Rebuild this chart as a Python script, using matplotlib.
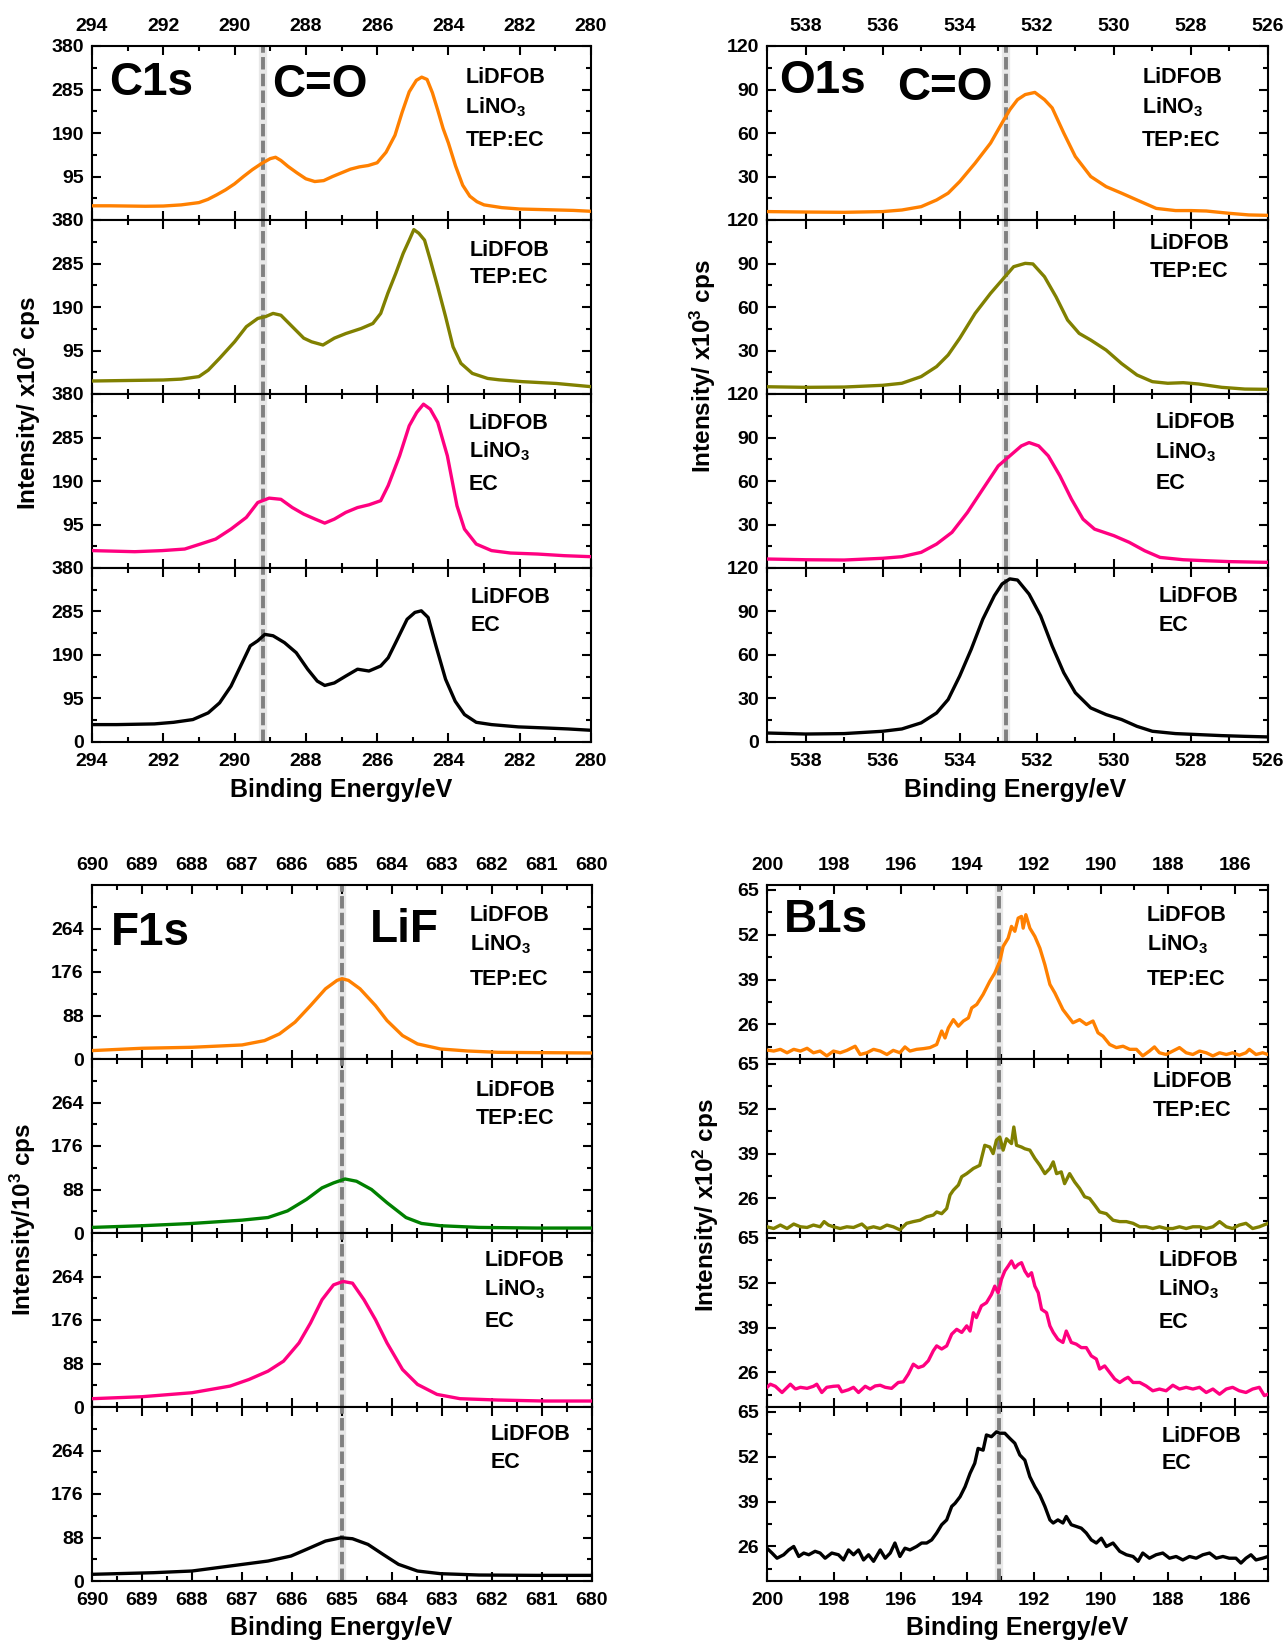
import matplotlib
matplotlib.use('Agg')
import matplotlib.pyplot as plt
from matplotlib.ticker import MultipleLocator, FixedLocator

plt.rcParams['font.family'] = ['Liberation Sans', 'DejaVu Sans']
plt.rcParams['font.weight'] = 'bold'
plt.rcParams['mathtext.fontset'] = 'custom'
plt.rcParams['mathtext.rm'] = 'Liberation Sans:bold'
plt.rcParams['mathtext.bf'] = 'Liberation Sans:bold'
plt.rcParams['mathtext.it'] = 'Liberation Sans:bold'
plt.rcParams['axes.linewidth'] = 1.5

# ---------------- data ----------------
# C1s
c1s_orange_ev = [294.0, 293.5, 293.0, 292.5, 292.0, 291.5, 291.0, 290.75, 290.5, 290.25, 290.0, 289.75, 289.5,
                 289.25, 289.0, 288.85, 288.7, 288.5, 288.25, 288.0, 287.75, 287.5, 287.25, 287.0, 286.75, 286.5,
                 286.25, 286.0, 285.75, 285.5, 285.3, 285.1, 284.9, 284.75, 284.6, 284.45, 284.3, 284.15, 284.0,
                 283.8, 283.6, 283.4, 283.2, 283.0, 282.5, 282.0, 281.5, 281.0, 280.5, 280.0]
c1s_orange_int = [31, 31, 30.5, 30, 30.5, 33, 38, 45, 55, 66, 79, 95, 110,
                  123, 134, 137, 130, 117, 103, 90, 84, 86, 95, 103, 111, 116,
                  119, 125, 148, 185, 235, 280, 305, 312, 307, 278, 240, 200, 168,
                  118, 76, 52, 40, 33, 27, 24, 23, 22, 21, 19]
c1s_olive_ev = [294.0, 293.0, 292.0, 291.5, 291.0, 290.74, 290.42, 290.0, 289.67, 289.35, 289.13, 288.92, 288.7,
                288.38, 288.06, 287.84, 287.52, 287.2, 286.88, 286.45, 286.12, 285.9, 285.7, 285.48, 285.27,
                285.1, 284.97, 284.83, 284.67, 284.51, 284.3, 284.08, 283.87, 283.65, 283.33, 282.9, 282.58,
                281.93, 280.97, 280.0]
c1s_olive_int = [28.4, 29.5, 30.6, 32.5, 38, 52, 78, 114, 147, 165, 169, 176, 172,
                 147, 122, 114, 107, 122, 132, 143, 154, 176, 220, 263, 307,
                 336, 359, 351, 336, 293, 234, 169, 103, 67, 45, 34, 31,
                 27, 23, 16]
c1s_pink_ev = [294.0, 292.8, 292.03, 291.4, 290.96, 290.53, 290.1, 289.67, 289.35, 289.03, 288.7, 288.38, 288.06,
               287.74, 287.47, 287.2, 286.88, 286.55, 286.23, 285.9, 285.69, 285.37, 285.1, 284.89, 284.7,
               284.51, 284.3, 284.03, 283.76, 283.55, 283.22, 282.79, 282.26, 281.5, 280.75, 280.0]
c1s_pink_int = [38, 35.6, 38, 41.4, 52.3, 63.2, 85, 110.5, 143, 152.6, 150, 132, 117.7,
                106.8, 98, 106.8, 121.4, 132, 138, 147, 180, 245, 310.5, 339.6, 357.8,
                347, 318, 245, 135.8, 85, 52.3, 38, 32.7, 30.5, 26.9, 24.7]
c1s_black_ev = [294.0, 293.3, 292.25, 291.71, 291.17, 290.74, 290.42, 290.1, 289.83, 289.56, 289.35, 289.15,
                288.92, 288.6, 288.27, 287.95, 287.68, 287.47, 287.2, 286.88, 286.55, 286.23, 285.9, 285.69,
                285.48, 285.16, 284.94, 284.76, 284.57, 284.35, 284.08, 283.81, 283.55, 283.22, 282.79,
                282.04, 281.29, 280.64, 280.0]
c1s_black_int = [38, 38, 39.5, 43, 49, 63.6, 85.5, 122, 166, 210, 221, 235,
                 232, 217, 195, 159, 133, 123.5, 129, 144, 159, 155, 166, 184,
                 217, 268, 283, 286.5, 272, 210, 137, 89, 60, 43, 38,
                 33, 30.7, 28.5, 25.6]

# O1s
o1s_orange_ev = [539.0, 538.0, 537.0, 536.0, 535.5, 535.0, 534.6, 534.3, 534.0, 533.6, 533.2, 532.9, 532.7,
                 532.5, 532.3, 532.05, 531.8, 531.6, 531.3, 531.0, 530.6, 530.2, 529.8, 529.4, 528.9, 528.4,
                 528.0, 527.6, 527.0, 526.5, 526.0]
o1s_orange_int = [5.8, 5.5, 5.3, 5.8, 6.9, 9.2, 13.8, 18.5, 26.5, 39.2, 53, 67, 76,
                  83, 86.5, 88, 83, 77.3, 60, 43.8, 30, 23, 18.5, 13.8, 8, 6.5,
                  6.5, 6.2, 4.6, 3.5, 3.2]
o1s_olive_ev = [539.0, 538.0, 537.0, 536.0, 535.5, 535.0, 534.6, 534.3, 534.0, 533.6, 533.2, 532.9, 532.6,
                532.3, 532.1, 531.8, 531.5, 531.2, 530.9, 530.6, 530.2, 529.8, 529.4, 529.0, 528.6, 528.2,
                527.8, 527.2, 526.6, 526.0]
o1s_olive_int = [5, 4.6, 4.8, 6, 7.4, 12, 18.9, 26.9, 38.4, 55.6, 69.4, 78.6, 87.8,
                 90.1, 89.7, 80.9, 67, 51, 41.8, 37.2, 30.3, 21, 13.1, 8.5, 7.4, 7.8,
                 6.9, 4.6, 3.4, 3.2]
o1s_pink_ev = [539.0, 538.0, 537.0, 536.0, 535.5, 535.0, 534.6, 534.2, 533.8, 533.4, 533.0, 532.7, 532.4,
               532.2, 531.95, 531.7, 531.4, 531.1, 530.8, 530.5, 530.0, 529.6, 529.2, 528.8, 528.2, 527.6,
               527.0, 526.0]
o1s_pink_int = [6.2, 5.7, 5.5, 6.7, 7.8, 10.8, 16.5, 24.6, 38.3, 54.4, 70.4, 77.3, 84.2,
                86.5, 84.2, 77.3, 63.6, 47.5, 33.7, 26.8, 22.3, 17.7, 11.9, 7.3, 5.7, 5,
                4.4, 3.9]
o1s_black_ev = [539.0, 538.0, 537.0, 536.0, 535.5, 535.0, 534.6, 534.3, 534.0, 533.7, 533.4, 533.1, 532.9,
                532.7, 532.5, 532.2, 531.9, 531.6, 531.3, 531.0, 530.6, 530.2, 529.8, 529.4, 529.0, 528.4,
                527.8, 527.2, 526.6, 526.0]
o1s_black_int = [6.2, 5.5, 5.8, 7.4, 9, 13.2, 20, 29.3, 45.5, 64, 84.7, 100.9, 109,
                 112.5, 111.7, 102, 87, 66.2, 47.8, 34, 23.5, 18.9, 15.5, 10.8, 7.4, 5.8,
                 5.1, 4.4, 3.9, 3.5]

# F1s
f1s_orange_ev = [690.0, 689.0, 688.0, 687.0, 686.55, 686.25, 685.94, 685.63, 685.33, 685.10, 685.0, 684.87,
                 684.64, 684.33, 684.10, 683.79, 683.49, 683.03, 682.49, 681.88, 681.11, 680.0]
f1s_orange_int = [17, 21.7, 23.7, 28.4, 37.2, 50.8, 74.5, 108, 142, 159, 162.5, 159,
                  142, 108, 77.8, 47.4, 30.5, 20.3, 16.2, 13.5, 12.9, 12.2]
f1s_green_ev = [690.0, 689.0, 688.0, 687.0, 686.48, 686.09, 685.71, 685.40, 685.17, 684.94, 684.71, 684.41,
                684.10, 683.72, 683.41, 683.03, 682.26, 681.11, 680.0]
f1s_green_int = [11.3, 14.7, 19.3, 26, 31.3, 44.7, 68, 91.3, 101.3, 109.3, 104.7, 88,
                 61.3, 31.3, 19.3, 14.7, 11.3, 10, 10]
f1s_pink_ev = [690.0, 689.0, 688.0, 687.24, 686.86, 686.48, 686.17, 685.86, 685.63, 685.40, 685.17, 684.98,
               684.79, 684.56, 684.33, 684.10, 683.79, 683.49, 683.10, 682.64, 681.88, 680.96, 680.0]
f1s_pink_int = [16.8, 20.8, 28.9, 42.3, 55.7, 72.5, 92.7, 129.6, 169.9, 216.9, 247, 254,
                250.5, 216.9, 176.6, 129.6, 75.9, 45.7, 25.5, 16.8, 14.1, 12.1, 12.1]
f1s_black_ev = [690.0, 688.77, 688.0, 687.24, 686.48, 686.02, 685.71, 685.33, 685.02, 684.79, 684.48, 684.18,
                683.87, 683.49, 683.03, 682.26, 681.11, 680.0]
f1s_black_int = [13.5, 16.8, 20.2, 30.3, 40.4, 50.5, 64, 80.8, 87.5, 85.5, 74, 53.9,
                 33.7, 20.2, 14.8, 12.1, 11.4, 11.4]

# B1s
b1s_orange_ev = [200.00, 199.80, 199.60, 199.40, 199.20, 199.00, 198.80, 198.61, 198.41, 198.21, 198.01, 197.81,
                 197.61, 197.36, 197.21, 197.01, 196.81, 196.61, 196.41, 196.22, 196.02, 195.87, 195.72, 195.52,
                 195.32, 195.12, 194.92, 194.77, 194.67, 194.57, 194.42, 194.27, 194.12, 193.97, 193.87, 193.72,
                 193.53, 193.33, 193.18, 193.03, 192.93, 192.78, 192.68, 192.58, 192.48, 192.38, 192.33, 192.25,
                 192.13, 191.98, 191.83, 191.68, 191.53, 191.38, 191.24, 191.14, 190.99, 190.84, 190.64, 190.44,
                 190.24, 190.09, 189.94, 189.74, 189.54, 189.34, 189.14, 188.94, 188.75, 188.55, 188.40, 188.25,
                 188.05, 187.85, 187.65, 187.45, 187.25, 187.05, 186.85, 186.65, 186.45, 186.25, 186.06, 185.86,
                 185.66, 185.56, 185.36, 185.16, 185.00]
b1s_orange_int = [18.6, 18.3, 18.8, 17.8, 18.8, 18.3, 19.1, 17.8, 18.3, 16.9, 18.3, 17.8,
                  18.5, 19.7, 17.3, 17.8, 18.8, 18.3, 17.3, 18.5, 17.8, 19.5, 18.3, 18.8,
                  19.0, 19.3, 20.2, 24.1, 22.1, 25.0, 27.4, 25.5, 27.0, 27.9, 30.8, 31.8,
                  34.7, 38.5, 40.9, 44.3, 48.6, 51.0, 54.4, 53.0, 56.8, 57.3, 53.9, 57.8,
                  53.9, 51.5, 48.1, 43.3, 37.6, 35.1, 32.3, 30.3, 28.4, 26.5, 27.4, 26.0,
                  27.0, 23.6, 22.6, 20.2, 19.3, 19.7, 18.8, 18.8, 16.9, 18.3, 19.5, 17.8,
                  17.3, 18.3, 19.3, 17.8, 17.3, 18.3, 17.8, 16.9, 17.8, 17.3, 17.8, 17.1,
                  17.8, 18.8, 17.3, 17.8, 17.3]
b1s_olive_ev = [200.00, 199.80, 199.60, 199.40, 199.20, 199.00, 198.80, 198.61, 198.41, 198.29, 198.16, 198.01,
                197.81, 197.61, 197.41, 197.16, 197.01, 196.81, 196.61, 196.41, 196.22, 196.02, 195.82, 195.62,
                195.42, 195.22, 195.02, 194.92, 194.77, 194.62, 194.52, 194.42, 194.27, 194.17, 194.02, 193.82,
                193.63, 193.48, 193.33, 193.23, 193.13, 193.03, 192.93, 192.83, 192.68, 192.61, 192.53, 192.38,
                192.28, 192.13, 191.98, 191.83, 191.68, 191.53, 191.43, 191.33, 191.19, 191.09, 190.94, 190.79,
                190.64, 190.49, 190.34, 190.19, 190.04, 189.84, 189.64, 189.44, 189.24, 189.04, 188.84, 188.65,
                188.45, 188.25, 188.05, 187.85, 187.65, 187.45, 187.25, 187.05, 186.85, 186.65, 186.45, 186.25,
                186.06, 185.86, 185.66, 185.46, 185.26, 185.00]
b1s_olive_int = [17.8, 17.3, 18.3, 17.3, 18.6, 17.8, 17.6, 18.3, 17.8, 19.3, 18.3, 17.8,
                 17.3, 17.8, 17.6, 18.6, 17.3, 17.8, 17.3, 18.3, 17.8, 16.9, 18.8, 19.3,
                 19.7, 20.7, 21.2, 22.1, 21.6, 23.1, 27.0, 28.4, 29.9, 32.3, 33.2, 34.7,
                 35.6, 41.4, 40.9, 39.0, 42.9, 43.8, 40.0, 43.3, 41.9, 46.7, 41.4, 40.9,
                 40.4, 40.0, 37.6, 35.6, 33.2, 34.7, 36.6, 33.2, 33.7, 30.3, 33.2, 30.8,
                 28.9, 26.5, 26.0, 24.1, 22.1, 21.6, 19.7, 19.3, 19.3, 18.8, 17.8, 17.8,
                 17.3, 17.8, 17.3, 17.3, 17.8, 17.3, 17.8, 17.8, 17.3, 17.8, 19.3, 17.8,
                 17.3, 18.3, 18.8, 17.3, 17.8, 18.8]
b1s_pink_ev = [200.00, 199.90, 199.75, 199.55, 199.30, 199.15, 199.00, 198.80, 198.61, 198.51, 198.36, 198.21,
               198.01, 197.86, 197.76, 197.56, 197.41, 197.26, 197.06, 196.91, 196.76, 196.61, 196.46, 196.27,
               196.07, 195.92, 195.77, 195.62, 195.47, 195.32, 195.17, 195.02, 194.92, 194.77, 194.62, 194.47,
               194.32, 194.17, 194.02, 193.92, 193.82, 193.73, 193.58, 193.43, 193.28, 193.18, 193.08, 192.98,
               192.88, 192.78, 192.68, 192.58, 192.48, 192.38, 192.28, 192.18, 192.08, 191.98, 191.88, 191.78,
               191.63, 191.53, 191.43, 191.29, 191.14, 191.04, 190.89, 190.74, 190.59, 190.44, 190.29, 190.14,
               190.04, 189.89, 189.74, 189.59, 189.44, 189.29, 189.19, 189.04, 188.84, 188.65, 188.45, 188.25,
               188.05, 187.85, 187.65, 187.45, 187.25, 187.05, 186.85, 186.65, 186.45, 186.25, 186.06, 185.86,
               185.66, 185.46, 185.26, 185.11, 185.00]
b1s_pink_int = [21.7, 22.6, 22.0, 20.2, 22.6, 21.2, 21.7, 21.4, 22.0, 22.6, 20.2, 21.7,
                22.0, 22.1, 20.4, 21.0, 21.7, 20.2, 22.0, 21.2, 22.1, 22.3, 21.7, 21.4,
                23.1, 23.3, 25.5, 28.4, 27.4, 27.9, 29.4, 32.3, 33.7, 32.8, 33.7, 37.1,
                38.5, 37.6, 39.5, 38.0, 43.3, 41.9, 45.3, 46.2, 48.6, 51.0, 49.1, 53.0,
                55.4, 56.8, 58.3, 56.3, 57.3, 57.8, 55.4, 53.9, 54.9, 51.0, 49.1, 44.3,
                43.3, 39.5, 37.6, 35.6, 34.7, 38.0, 34.7, 34.2, 33.2, 33.2, 30.8, 29.9,
                27.0, 27.9, 26.0, 24.1, 23.1, 24.1, 24.6, 23.1, 23.1, 22.1, 20.7, 21.2,
                20.7, 22.3, 21.2, 21.7, 21.2, 21.7, 20.2, 21.2, 19.7, 21.2, 21.7, 20.7,
                20.2, 21.2, 21.7, 19.3, 19.7]
b1s_black_ev = [200.00, 199.85, 199.70, 199.50, 199.35, 199.20, 199.05, 198.90, 198.75, 198.56, 198.41, 198.26,
                198.06, 197.86, 197.71, 197.56, 197.41, 197.26, 197.11, 196.96, 196.81, 196.61, 196.46, 196.31,
                196.17, 196.02, 195.87, 195.72, 195.52, 195.37, 195.22, 195.07, 194.92, 194.77, 194.62, 194.47,
                194.37, 194.22, 194.07, 193.92, 193.78, 193.68, 193.53, 193.43, 193.28, 193.13, 193.03, 192.88,
                192.73, 192.58, 192.43, 192.28, 192.13, 191.98, 191.83, 191.68, 191.53, 191.43, 191.29, 191.14,
                191.04, 190.89, 190.74, 190.59, 190.44, 190.29, 190.14, 189.99, 189.84, 189.64, 189.44, 189.24,
                189.04, 188.89, 188.75, 188.55, 188.35, 188.15, 187.95, 187.75, 187.55, 187.35, 187.15, 186.95,
                186.75, 186.55, 186.35, 186.16, 185.96, 185.81, 185.66, 185.51, 185.36, 185.16, 185.00]
b1s_black_int = [25.5, 24.1, 22.6, 23.6, 25.0, 26.0, 23.1, 24.1, 23.6, 24.6, 24.1, 22.6,
                 24.1, 23.6, 22.1, 25.0, 23.6, 25.0, 22.1, 23.6, 21.7, 25.0, 22.6, 24.1,
                 27.0, 23.1, 25.5, 25.0, 26.0, 27.0, 27.0, 27.9, 29.9, 32.3, 33.7, 37.6,
                 38.5, 40.4, 43.3, 47.2, 50.1, 54.4, 53.9, 58.3, 57.8, 59.2, 58.8, 58.8,
                 57.3, 55.9, 52.5, 51.0, 46.2, 43.3, 40.9, 37.6, 33.7, 32.8, 33.7, 32.8,
                 34.7, 32.3, 31.8, 31.3, 29.9, 27.9, 27.0, 28.4, 26.0, 27.0, 24.6, 23.6,
                 23.1, 21.7, 24.1, 22.6, 23.6, 24.1, 22.6, 23.1, 22.1, 23.1, 22.6, 23.6,
                 24.1, 22.6, 23.1, 22.6, 22.6, 21.2, 22.6, 23.6, 22.1, 22.6, 23.1]

sample_rows = [['LiDFOB', 'LiNO$_3$', 'TEP:EC'],
               ['LiDFOB', 'TEP:EC'],
               ['LiDFOB', 'LiNO$_3$', 'EC'],
               ['LiDFOB', 'EC']]

ORANGE, OLIVE, PINK, BLACK, GREEN = '#FF8000', '#808000', '#FF0080', '#000000', '#008000'

W, H = 1283.0, 1641.0
PH = 174.0
SCALE = 1283.0 / 1226.0

fig = plt.figure(figsize=(12.83, 16.41), dpi=100)


def make_group(left, right, top, xlim, xmaj, xmin, ylim, yticks_top, yticks_bottom, yminor,
               series, colors, marker_x, label_x, label_dy, big_texts, xlabel_xy, ylabel_xy, ylabel):
    axes = []
    for i in range(4):
        bottom_px = top + (i + 1) * PH
        ax = fig.add_axes([left / W, 1 - bottom_px / H, (right - left) / W, PH / H])
        ev, inten = series[i]
        # highlight line (glow + dashed)
        ax.axvline(marker_x, color='#d2d2d2', lw=6.0, alpha=0.5, zorder=1)
        ax.axvline(marker_x, color='#808080', lw=2.8, ls=(0, (3.2, 1.1)), zorder=2)
        ax.plot(ev, inten, color=colors[i], lw=2.4, zorder=3, solid_joinstyle='round')
        ax.set_xlim(*xlim)
        ax.set_ylim(*ylim)
        ax.xaxis.set_major_locator(MultipleLocator(xmaj))
        ax.xaxis.set_minor_locator(MultipleLocator(xmin))
        ax.yaxis.set_major_locator(FixedLocator(yticks_bottom if i == 3 else yticks_top))
        ax.yaxis.set_minor_locator(FixedLocator(yminor))
        ax.tick_params(which='both', direction='in', top=True, right=True, width=1.5,
                       labelsize=14, labeltop=(i == 0), labelbottom=(i == 3))
        ax.tick_params(which='major', length=6.5)
        ax.tick_params(which='minor', length=3.5)
        ax.tick_params(axis='x', which='major', pad=8)
        ax.tick_params(axis='y', which='major', pad=6)
        for lab in ax.get_xticklabels() + ax.get_yticklabels():
            lab.set_fontweight('bold')
        # sample labels
        for j, row in enumerate(sample_rows[i]):
            b = label_dy[i][j] * SCALE + 7.7
            ax.text(label_x[i], 1 - b / PH, row, transform=ax.transAxes, fontsize=15.5,
                    fontweight='bold', ha='left', va='baseline', zorder=5)
        axes.append(ax)
    for (tx, fx, fdy) in big_texts:
        b = fdy * SCALE + 16.4
        axes[0].text(fx, 1 - b / PH, tx, transform=axes[0].transAxes, fontsize=33,
                     fontweight='bold', ha='left', va='baseline', zorder=5)
    fig.text(xlabel_xy[0] / W, 1 - xlabel_xy[1] / H, 'Binding Energy/eV', fontsize=18,
             fontweight='bold', ha='center', va='center')
    fig.text(ylabel_xy[0] / W, 1 - ylabel_xy[1] / H, ylabel, fontsize=17.5,
             fontweight='bold', ha='center', va='center', rotation=90)
    return axes


make_group(92, 591, 46, (294, 280), 2, 1, (0, 380), [95, 190, 285, 380], [0, 95, 190, 285, 380],
           [47.5, 142.5, 237.5, 332.5],
           [(c1s_orange_ev, c1s_orange_int), (c1s_olive_ev, c1s_olive_int),
            (c1s_pink_ev, c1s_pink_int), (c1s_black_ev, c1s_black_int)],
           [ORANGE, OLIVE, PINK, BLACK], 289.2,
           [0.748, 0.757, 0.755, 0.759], [[28, 57, 88], [27, 53], [26, 53, 84], [26, 53]],
           [('C1s', 0.034, 31), ('C=O', 0.361, 33)], (341.5, 790), (28, 403),
           'Intensity/ x10$^2$ cps')

make_group(767, 1268, 46, (539, 526), 2, 1, (0, 120), [30, 60, 90, 120], [0, 30, 60, 90, 120],
           [15, 45, 75, 105],
           [(o1s_orange_ev, o1s_orange_int), (o1s_olive_ev, o1s_olive_int),
            (o1s_pink_ev, o1s_pink_int), (o1s_black_ev, o1s_black_int)],
           [ORANGE, OLIVE, PINK, BLACK], 532.8,
           [0.749, 0.764, 0.775, 0.781], [[28, 57, 88], [20, 47], [25, 54, 83], [25, 53]],
           [('O1s', 0.025, 29), ('C=O', 0.259, 36)], (1015, 790), (703, 366),
           'Intensity/ x10$^3$ cps')

make_group(92, 592, 885, (690, 680), 1, 0.5, (0, 352), [0, 88, 176, 264], [0, 88, 176, 264],
           [44, 132, 220, 308],
           [(f1s_orange_ev, f1s_orange_int), (f1s_green_ev, f1s_green_int),
            (f1s_pink_ev, f1s_pink_int), (f1s_black_ev, f1s_black_int)],
           [ORANGE, GREEN, PINK, BLACK], 685.0,
           [0.755, 0.768, 0.785, 0.797], [[27, 55, 88], [28, 55], [24, 52, 82], [24, 51]],
           [('F1s', 0.038, 42), ('LiF', 0.556, 39)], (341.5, 1628), (23, 1219),
           'Intensity/10$^3$ cps')

make_group(767, 1268, 885, (200, 185), 2, 1, (16, 66.4), [26, 39, 52, 65], [26, 39, 52, 65],
           [19.5, 32.5, 45.5, 58.5],
           [(b1s_orange_ev, b1s_orange_int), (b1s_olive_ev, b1s_olive_int),
            (b1s_pink_ev, b1s_pink_int), (b1s_black_ev, b1s_black_int)],
           [ORANGE, OLIVE, PINK, BLACK], 193.05,
           [0.758, 0.770, 0.781, 0.787], [[27, 55, 88], [19, 47], [24, 52, 83], [26, 52]],
           [('B1s', 0.033, 29)], (1017, 1628), (706, 1205),
           'Intensity/ x10$^2$ cps')

fig.savefig('out.png', dpi=100)
